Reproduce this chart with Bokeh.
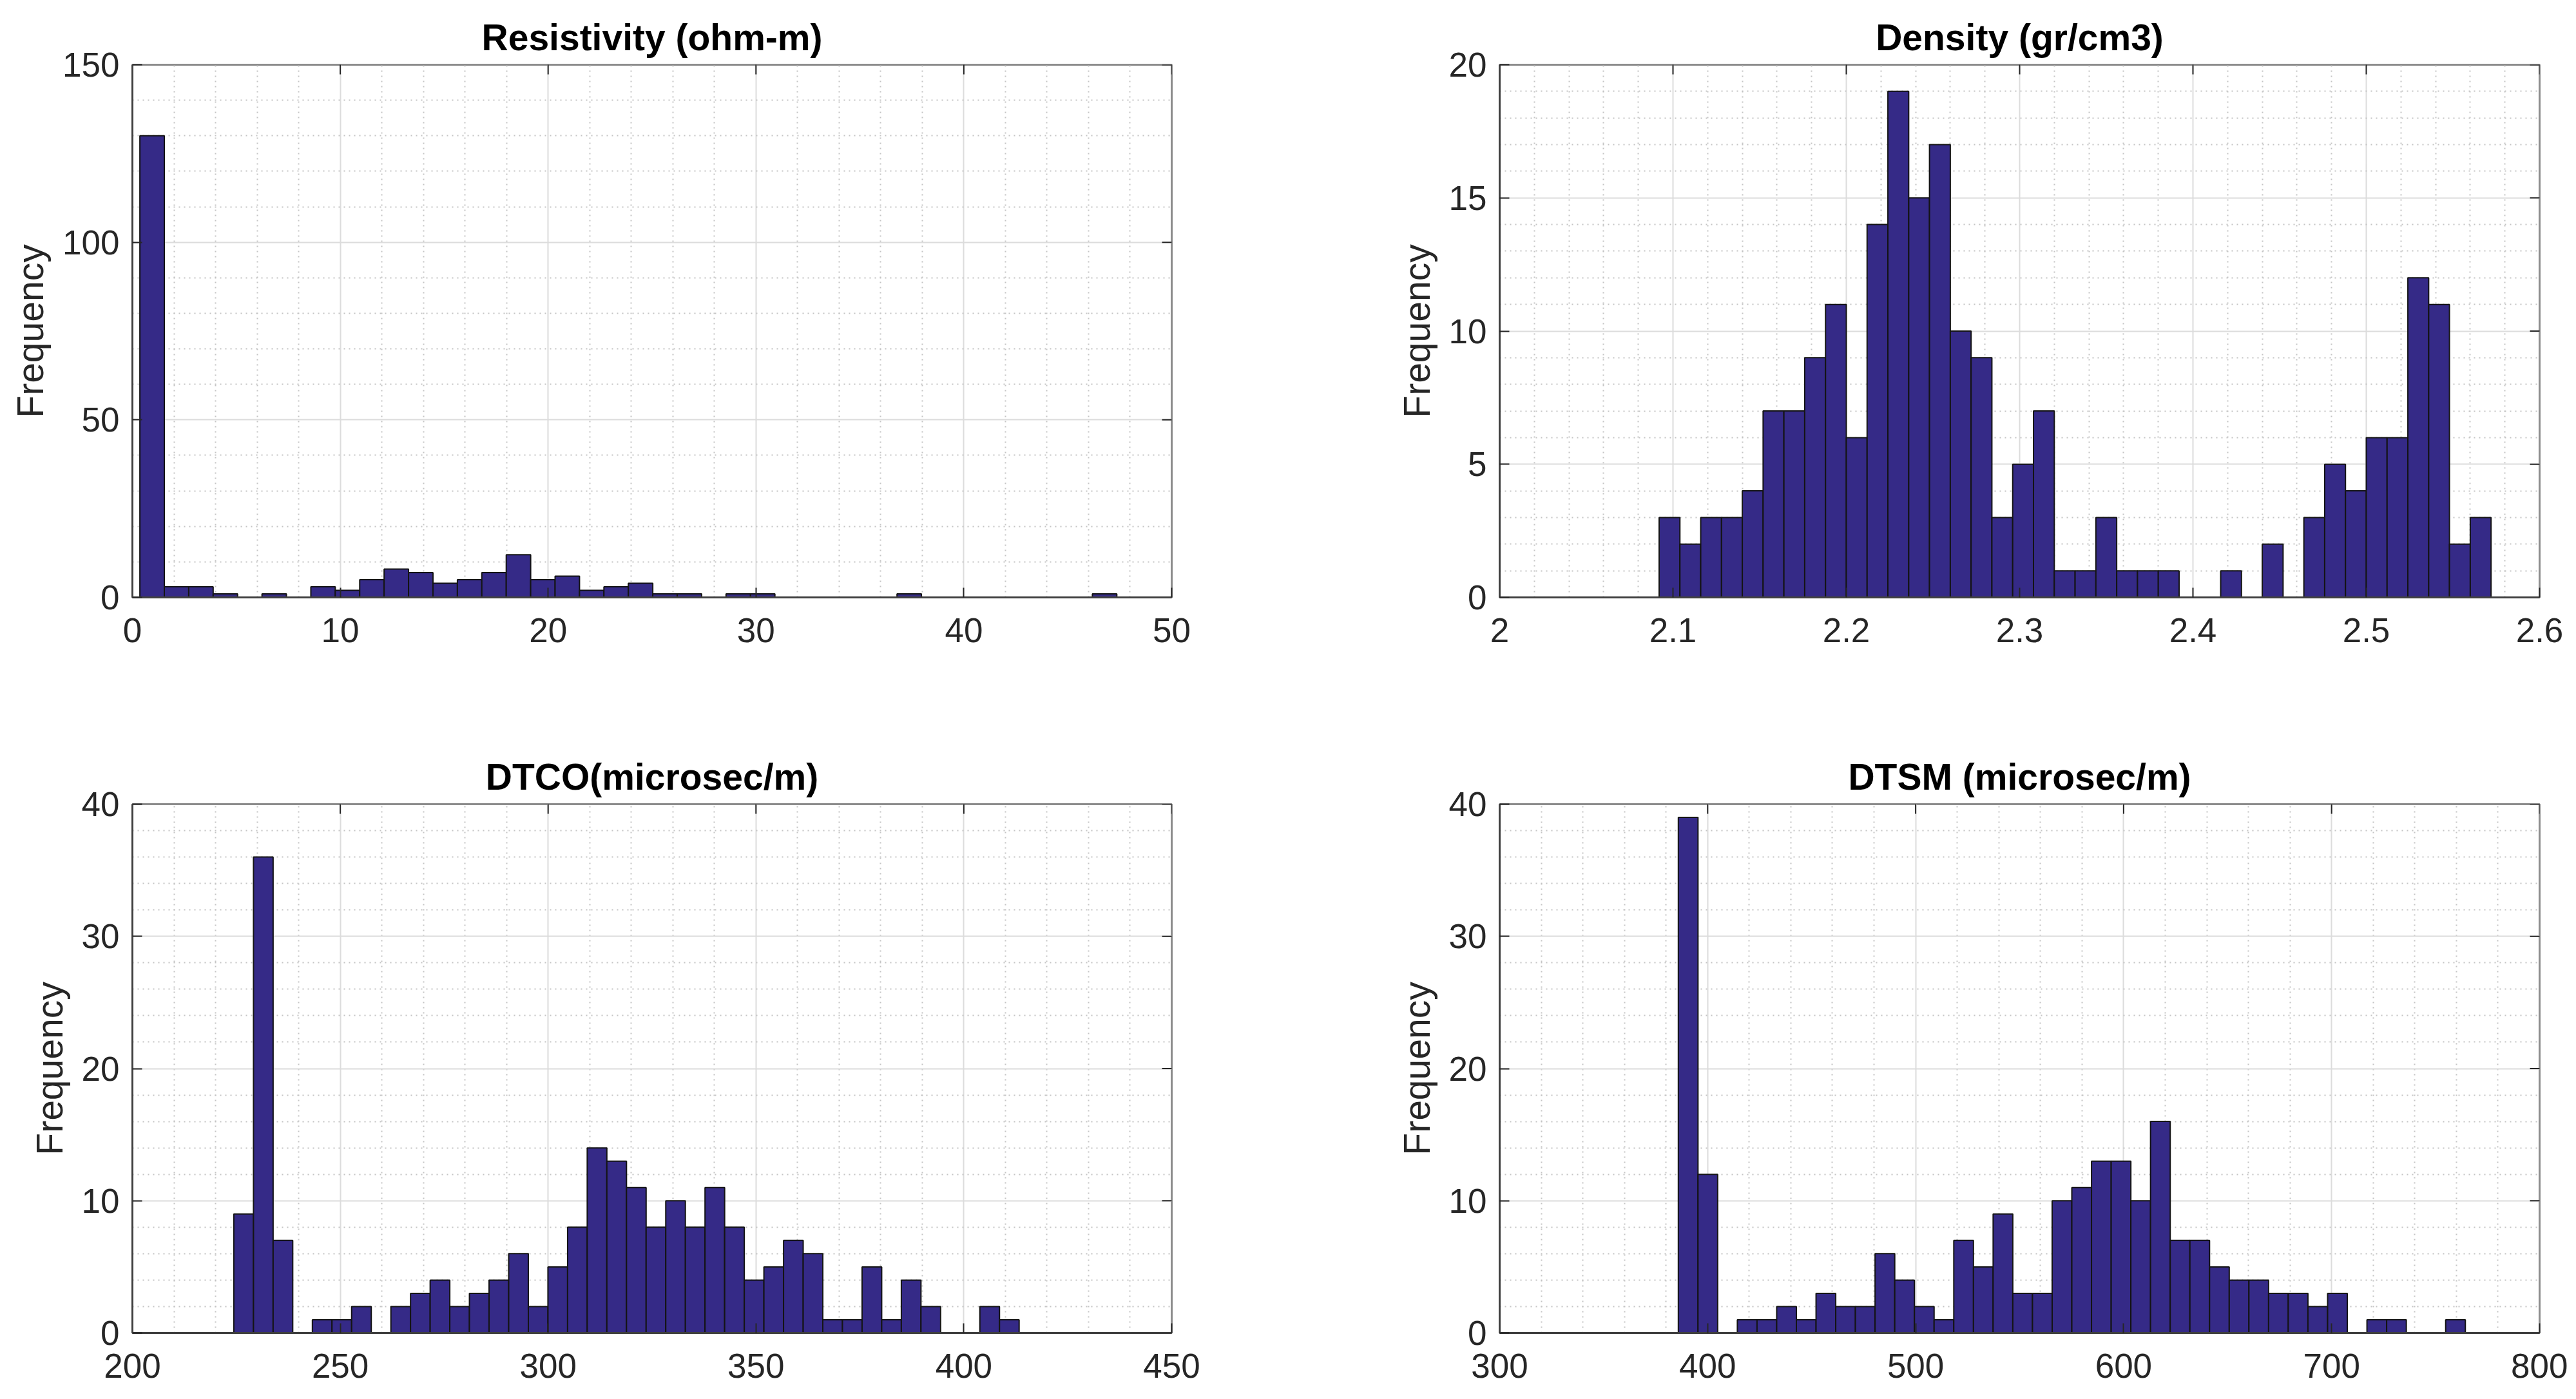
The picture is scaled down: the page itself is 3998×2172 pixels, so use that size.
import numpy as np
from bokeh.plotting import figure
from bokeh.layouts import column, row
from bokeh.models import Range1d, FixedTicker, CustomJSTickFormatter
from bokeh.embed import file_html
from bokeh.resources import INLINE

# ---------------- data ----------------
res_title = "Resistivity (ohm-m)"
res_bin_min, res_bin_max = 0.36, 47.36
res_counts = [130, 3, 3, 1, 0, 1, 0, 3, 2, 5,
              8, 7, 4, 5, 7, 12, 5, 6, 2, 3,
              4, 1, 1, 0, 1, 1, 0, 0, 0, 0,
              0, 1, 0, 0, 0, 0, 0, 0, 0, 1]
res_xticks = [0, 10, 20, 30, 40, 50]
res_yticks = [0, 50, 100, 150]

den_title = "Density (gr/cm3)"
den_bin_min, den_bin_max = 2.092, 2.572
den_counts = [3, 2, 3, 3, 4, 7, 7, 9, 11, 6,
              14, 19, 15, 17, 10, 9, 3, 5, 7, 1,
              1, 3, 1, 1, 1, 0, 0, 1, 0, 2,
              0, 3, 5, 4, 6, 6, 12, 11, 2, 3]
den_xticks = [2.0, 2.1, 2.2, 2.3, 2.4, 2.5, 2.6]
den_yticks = [0, 5, 10, 15, 20]

dtco_title = "DTCO(microsec/m)"
dtco_bin_min, dtco_bin_max = 224.4, 413.3
dtco_counts = [9, 36, 7, 0, 1, 1, 2, 0, 2, 3,
               4, 2, 3, 4, 6, 2, 5, 8, 14, 13,
               11, 8, 10, 8, 11, 8, 4, 5, 7, 6,
               1, 1, 5, 1, 4, 2, 0, 0, 2, 1]
dtco_xticks = [200, 250, 300, 350, 400, 450]
dtco_yticks = [0, 10, 20, 30, 40]

dtsm_title = "DTSM (microsec/m)"
dtsm_bin_min, dtsm_bin_max = 385.9, 764.3
dtsm_counts = [39, 12, 0, 1, 1, 2, 1, 3, 2, 2,
               6, 4, 2, 1, 7, 5, 9, 3, 3, 10,
               11, 13, 13, 10, 16, 7, 7, 5, 4, 4,
               3, 3, 2, 3, 0, 1, 1, 0, 0, 1]
dtsm_xticks = [300, 400, 500, 600, 700, 800]
dtsm_yticks = [0, 10, 20, 30, 40]

y_label = "Frequency"

# ---------------- styling ----------------
FONT = "Liberation Sans"
TXT = "#262626"
BAR = "#352A87"


def minor_between(ticks, n=5):
    out = []
    for a, b in zip(ticks[:-1], ticks[1:]):
        step = (b - a) / n
        out += [a + step * k for k in range(1, n)]
    return out


def make_panel(title, counts, bmin, bmax, xticks, yticks,
               bl, br, bt, bb, fw, fh):
    p = figure(output_backend="svg", toolbar_location=None,
               frame_width=fw, frame_height=fh,
               min_border_left=bl, min_border_right=br,
               min_border_top=bt, min_border_bottom=bb,
               x_range=Range1d(xticks[0], xticks[-1]),
               y_range=Range1d(yticks[0], yticks[-1]),
               title=title)

    xt = FixedTicker(ticks=xticks, minor_ticks=minor_between(xticks))
    yt = FixedTicker(ticks=yticks, minor_ticks=minor_between(yticks))

    for g, t in ((p.xgrid[0], xt), (p.ygrid[0], yt)):
        g.ticker = t
        g.grid_line_color = "#dcdcdc"
        g.grid_line_width = 2
        g.minor_grid_line_color = "#c4c4c4"
        g.minor_grid_line_width = 2
        g.minor_grid_line_dash = "2 6"

    edges = np.linspace(bmin, bmax, len(counts) + 1)
    p.quad(left=edges[:-1], right=edges[1:], top=counts, bottom=0,
           fill_color=BAR, line_color="#141414", line_width=2)

    # inward tick marks on the top and right sides of the box (clipped to frame)
    p.scatter(x=xticks, y=[yticks[-1]] * len(xticks), marker="dash",
              angle=np.pi / 2, size=30, line_color="#262626", line_width=2)
    p.scatter(x=[xticks[-1]] * len(yticks), y=yticks, marker="dash",
              size=30, line_color="#262626", line_width=2)

    p.title.text_font = FONT
    p.title.text_font_size = "57px"
    p.title.text_font_style = "bold"
    p.title.text_color = "#000000"
    p.title.align = "center"
    p.title.standoff = 22

    p.background_fill_color = "white"
    p.border_fill_color = "white"
    p.outline_line_color = "#8c8c8c"
    p.outline_line_width = 3

    p.xaxis.ticker = xt
    p.yaxis.ticker = yt
    fmt = CustomJSTickFormatter(code="return String(Math.round(tick*1000)/1000);")
    p.xaxis.formatter = fmt
    p.yaxis.formatter = fmt

    for ax in (p.xaxis[0], p.yaxis[0]):
        ax.axis_line_color = "#404040"
        ax.axis_line_width = 3
        ax.major_tick_in = 15
        ax.major_tick_out = 0
        ax.major_tick_line_color = "#262626"
        ax.major_tick_line_width = 2
        ax.minor_tick_in = 0
        ax.minor_tick_out = 0
        ax.major_label_text_font = FONT
        ax.major_label_text_font_size = "53px"
        ax.major_label_text_color = TXT
    p.xaxis.major_label_standoff = 32
    p.yaxis.major_label_standoff = 20

    p.yaxis.axis_label = y_label
    p.yaxis.axis_label_text_font = FONT
    p.yaxis.axis_label_text_font_size = "57px"
    p.yaxis.axis_label_text_font_style = "normal"
    p.yaxis.axis_label_text_color = TXT
    p.yaxis.axis_label_standoff = 15
    return p


p1 = make_panel(res_title, res_counts, res_bin_min, res_bin_max,
                res_xticks, res_yticks, 205, 60, 100, 100, 1613, 827)
p2 = make_panel(den_title, den_counts, den_bin_min, den_bin_max,
                den_xticks, den_yticks, 449, 44, 100, 100, 1614, 827)
p3 = make_panel(dtco_title, dtco_counts, dtco_bin_min, dtco_bin_max,
                dtco_xticks, dtco_yticks, 205, 60, 221, 92, 1613, 821)
p4 = make_panel(dtsm_title, dtsm_counts, dtsm_bin_min, dtsm_bin_max,
                dtsm_xticks, dtsm_yticks, 449, 44, 221, 92, 1614, 821)

layout = column(row(p1, p2), row(p3, p4))

open("out.html", "w").write(file_html(layout, INLINE))
